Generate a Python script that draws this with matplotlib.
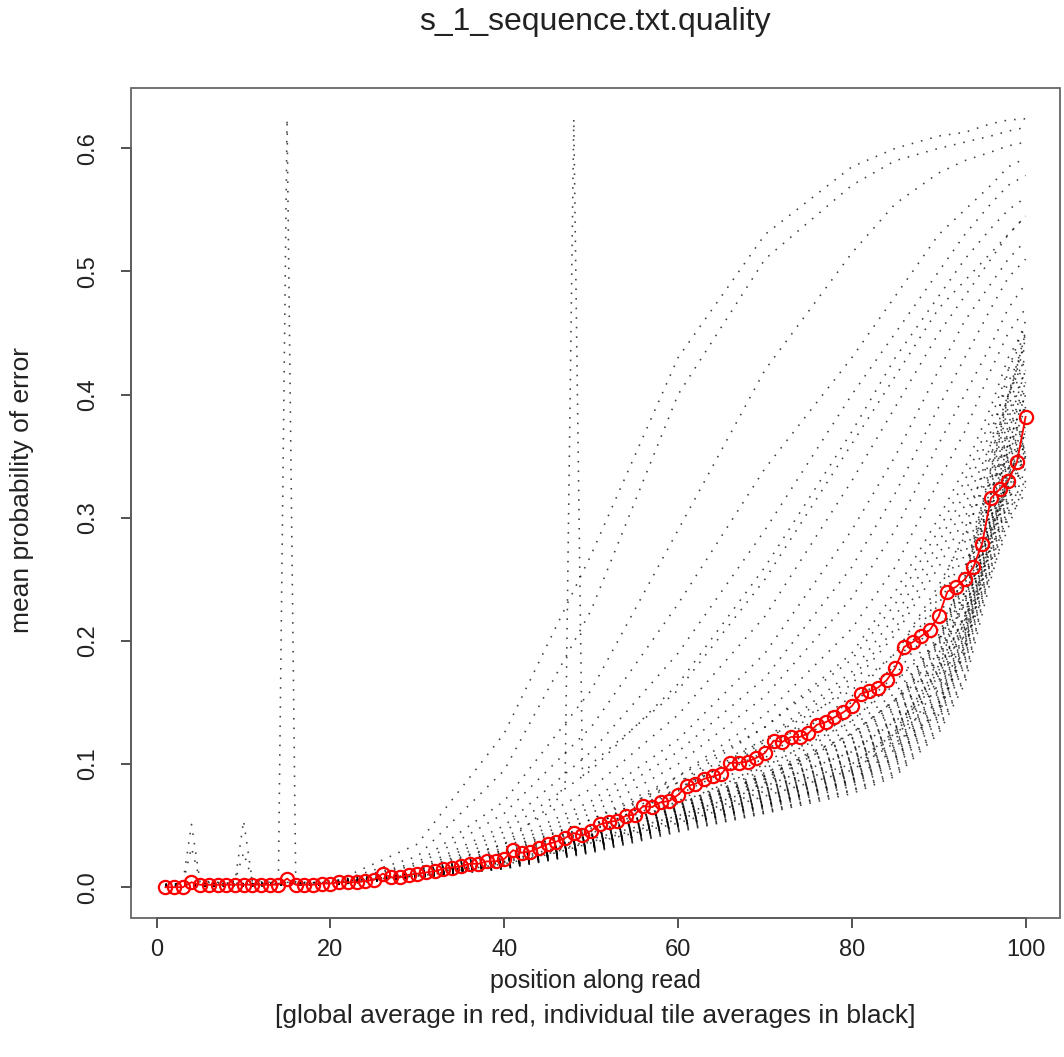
import matplotlib
matplotlib.use("Agg")
import matplotlib.pyplot as plt
from matplotlib.patches import Rectangle

# global average (red), one value per read position
position = list(range(1, 101))
global_err = [
    0.000, 0.000, 0.000, 0.004, 0.002, 0.002, 0.002, 0.002, 0.002, 0.002,
    0.002, 0.002, 0.002, 0.002, 0.007, 0.002, 0.002, 0.002, 0.003, 0.003,
    0.004, 0.004, 0.004, 0.005, 0.006, 0.011, 0.008, 0.008, 0.010, 0.011,
    0.012, 0.013, 0.015, 0.016, 0.017, 0.019, 0.019, 0.021, 0.021, 0.023,
    0.030, 0.028, 0.029, 0.032, 0.035, 0.037, 0.040, 0.044, 0.042, 0.046,
    0.051, 0.053, 0.054, 0.058, 0.059, 0.066, 0.065, 0.069, 0.070, 0.075,
    0.082, 0.084, 0.088, 0.090, 0.092, 0.101, 0.101, 0.102, 0.105, 0.109,
    0.119, 0.118, 0.122, 0.122, 0.125, 0.132, 0.134, 0.138, 0.142, 0.147,
    0.157, 0.159, 0.162, 0.168, 0.178, 0.195, 0.199, 0.204, 0.209, 0.220,
    0.240, 0.244, 0.250, 0.260, 0.279, 0.316, 0.323, 0.330, 0.345, 0.382,
]

# individual tile averages (black), read at these positions
tile_pos = [1, 20, 30, 40, 50, 60, 70, 80, 85, 90, 93, 96, 98, 100]

fan_tiles = [
    [0.002, 0.003, 0.035, 0.125, 0.270, 0.430, 0.530, 0.585, 0.600, 0.610, 0.613, 0.620, 0.623, 0.624],
    [0.002, 0.003, 0.025, 0.095, 0.225, 0.400, 0.510, 0.570, 0.590, 0.600, 0.605, 0.610, 0.614, 0.617],
    [0.002, 0.003, 0.020, 0.070, 0.160, 0.290, 0.420, 0.515, 0.555, 0.580, 0.590, 0.597, 0.602, 0.605],
    [0.002, 0.003, 0.018, 0.060, 0.130, 0.230, 0.340, 0.430, 0.480, 0.530, 0.550, 0.570, 0.585, 0.592],
    [0.002, 0.003, 0.015, 0.050, 0.110, 0.190, 0.290, 0.400, 0.450, 0.500, 0.530, 0.555, 0.570, 0.578],
    [0.002, 0.003, 0.014, 0.045, 0.095, 0.165, 0.260, 0.370, 0.430, 0.480, 0.510, 0.535, 0.550, 0.560],
    [0.002, 0.003, 0.013, 0.040, 0.080, 0.140, 0.220, 0.330, 0.390, 0.450, 0.480, 0.510, 0.530, 0.545],
    [0.002, 0.003, 0.012, 0.035, 0.070, 0.120, 0.190, 0.290, 0.350, 0.420, 0.460, 0.490, 0.510, 0.525],
    [0.002, 0.003, 0.012, 0.032, 0.065, 0.110, 0.170, 0.260, 0.320, 0.390, 0.430, 0.470, 0.495, 0.510],
    [0.002, 0.003, 0.011, 0.030, 0.060, 0.100, 0.155, 0.235, 0.290, 0.360, 0.400, 0.440, 0.470, 0.490],
    [0.002, 0.003, 0.011, 0.028, 0.055, 0.090, 0.140, 0.210, 0.260, 0.330, 0.370, 0.420, 0.450, 0.470],
    [0.002, 0.003, 0.010, 0.026, 0.050, 0.085, 0.130, 0.190, 0.240, 0.300, 0.340, 0.390, 0.430, 0.455],
]

mid_tiles = [
    [0.002, 0.003, 0.010, 0.024, 0.045, 0.080, 0.120, 0.175, 0.220, 0.280, 0.320, 0.370, 0.410, 0.440],
    [0.002, 0.003, 0.010, 0.023, 0.042, 0.075, 0.110, 0.165, 0.205, 0.260, 0.300, 0.350, 0.400, 0.430],
    [0.002, 0.003, 0.010, 0.022, 0.040, 0.070, 0.105, 0.155, 0.190, 0.245, 0.285, 0.340, 0.385, 0.420],
    [0.002, 0.003, 0.009, 0.021, 0.038, 0.066, 0.100, 0.148, 0.180, 0.230, 0.270, 0.330, 0.370, 0.410],
    [0.002, 0.003, 0.009, 0.020, 0.036, 0.063, 0.096, 0.140, 0.172, 0.220, 0.260, 0.320, 0.360, 0.400],
    [0.002, 0.003, 0.009, 0.020, 0.035, 0.060, 0.092, 0.135, 0.165, 0.210, 0.250, 0.310, 0.350, 0.390],
    [0.002, 0.003, 0.009, 0.019, 0.034, 0.058, 0.088, 0.130, 0.158, 0.200, 0.240, 0.300, 0.340, 0.380],
    [0.002, 0.003, 0.008, 0.019, 0.033, 0.056, 0.085, 0.125, 0.152, 0.190, 0.230, 0.290, 0.330, 0.370],
    [0.002, 0.003, 0.012, 0.030, 0.055, 0.085, 0.120, 0.160, 0.190, 0.240, 0.290, 0.360, 0.420, 0.460],
    [0.002, 0.003, 0.011, 0.028, 0.050, 0.080, 0.115, 0.150, 0.180, 0.235, 0.280, 0.350, 0.400, 0.450],
    [0.002, 0.003, 0.012, 0.027, 0.048, 0.090, 0.130, 0.185, 0.230, 0.290, 0.330, 0.380, 0.420, 0.450],
    [0.002, 0.003, 0.011, 0.026, 0.046, 0.078, 0.118, 0.170, 0.210, 0.270, 0.310, 0.360, 0.400, 0.430],
]

band_tiles = [
    [0.001, 0.002, 0.008, 0.015, 0.028, 0.045, 0.060, 0.076, 0.090, 0.125, 0.165, 0.250, 0.300, 0.320],
    [0.001, 0.002, 0.008, 0.016, 0.029, 0.047, 0.062, 0.079, 0.094, 0.130, 0.172, 0.260, 0.310, 0.330],
    [0.001, 0.002, 0.008, 0.016, 0.030, 0.048, 0.064, 0.082, 0.098, 0.135, 0.180, 0.265, 0.315, 0.340],
    [0.001, 0.002, 0.009, 0.017, 0.031, 0.050, 0.066, 0.085, 0.102, 0.140, 0.186, 0.270, 0.320, 0.350],
    [0.001, 0.002, 0.009, 0.017, 0.032, 0.051, 0.068, 0.088, 0.106, 0.145, 0.190, 0.275, 0.325, 0.355],
    [0.001, 0.002, 0.009, 0.018, 0.033, 0.052, 0.070, 0.091, 0.110, 0.150, 0.195, 0.280, 0.330, 0.360],
    [0.001, 0.002, 0.009, 0.018, 0.034, 0.054, 0.072, 0.094, 0.114, 0.155, 0.200, 0.285, 0.335, 0.365],
    [0.001, 0.002, 0.009, 0.019, 0.035, 0.055, 0.074, 0.097, 0.118, 0.160, 0.205, 0.290, 0.340, 0.370],
    [0.001, 0.002, 0.010, 0.019, 0.036, 0.057, 0.076, 0.100, 0.122, 0.165, 0.210, 0.295, 0.345, 0.375],
    [0.001, 0.002, 0.010, 0.020, 0.037, 0.058, 0.078, 0.103, 0.126, 0.172, 0.215, 0.300, 0.350, 0.380],
    [0.001, 0.002, 0.010, 0.020, 0.038, 0.060, 0.080, 0.106, 0.130, 0.178, 0.220, 0.305, 0.355, 0.390],
    [0.001, 0.002, 0.010, 0.021, 0.039, 0.061, 0.082, 0.109, 0.134, 0.184, 0.230, 0.310, 0.360, 0.400],
    [0.001, 0.002, 0.010, 0.021, 0.040, 0.063, 0.085, 0.112, 0.138, 0.190, 0.240, 0.320, 0.370, 0.410],
    [0.001, 0.002, 0.011, 0.022, 0.041, 0.064, 0.087, 0.116, 0.142, 0.196, 0.245, 0.325, 0.380, 0.420],
    [0.001, 0.002, 0.011, 0.022, 0.042, 0.066, 0.090, 0.120, 0.147, 0.200, 0.250, 0.330, 0.390, 0.430],
    [0.001, 0.002, 0.011, 0.023, 0.043, 0.068, 0.093, 0.124, 0.152, 0.205, 0.255, 0.340, 0.400, 0.440],
    [0.001, 0.002, 0.009, 0.018, 0.033, 0.053, 0.071, 0.093, 0.120, 0.172, 0.210, 0.290, 0.330, 0.360],
    [0.001, 0.002, 0.009, 0.018, 0.034, 0.054, 0.073, 0.096, 0.124, 0.176, 0.215, 0.295, 0.335, 0.365],
    [0.001, 0.002, 0.010, 0.019, 0.035, 0.056, 0.075, 0.098, 0.127, 0.180, 0.220, 0.300, 0.340, 0.370],
    [0.001, 0.002, 0.009, 0.017, 0.032, 0.050, 0.067, 0.086, 0.104, 0.143, 0.190, 0.280, 0.330, 0.355],
    [0.001, 0.002, 0.009, 0.018, 0.033, 0.052, 0.069, 0.090, 0.108, 0.148, 0.196, 0.285, 0.335, 0.360],
    [0.001, 0.002, 0.010, 0.020, 0.037, 0.058, 0.079, 0.104, 0.128, 0.175, 0.220, 0.310, 0.360, 0.400],
    [0.001, 0.002, 0.010, 0.021, 0.039, 0.062, 0.084, 0.110, 0.136, 0.188, 0.235, 0.320, 0.375, 0.420],
    [0.001, 0.002, 0.011, 0.022, 0.041, 0.065, 0.088, 0.117, 0.145, 0.198, 0.248, 0.335, 0.395, 0.450],
    [0.001, 0.002, 0.008, 0.016, 0.030, 0.049, 0.065, 0.084, 0.100, 0.138, 0.183, 0.268, 0.318, 0.345],
    [0.001, 0.002, 0.009, 0.017, 0.031, 0.051, 0.067, 0.087, 0.105, 0.146, 0.192, 0.278, 0.328, 0.352],
    [0.001, 0.002, 0.009, 0.018, 0.033, 0.053, 0.070, 0.092, 0.112, 0.153, 0.198, 0.283, 0.332, 0.362],
    [0.001, 0.002, 0.009, 0.018, 0.034, 0.055, 0.073, 0.095, 0.116, 0.158, 0.203, 0.288, 0.338, 0.368],
    [0.001, 0.002, 0.010, 0.019, 0.036, 0.056, 0.077, 0.101, 0.124, 0.168, 0.212, 0.298, 0.348, 0.378],
    [0.001, 0.002, 0.010, 0.020, 0.038, 0.059, 0.080, 0.105, 0.129, 0.176, 0.222, 0.306, 0.356, 0.392],
    [0.001, 0.002, 0.010, 0.021, 0.040, 0.062, 0.083, 0.111, 0.137, 0.186, 0.232, 0.318, 0.368, 0.405],
    [0.001, 0.002, 0.011, 0.022, 0.042, 0.067, 0.091, 0.121, 0.150, 0.202, 0.252, 0.338, 0.398, 0.445],
    [0.001, 0.002, 0.008, 0.015, 0.029, 0.046, 0.061, 0.078, 0.092, 0.128, 0.170, 0.258, 0.305, 0.325],
    [0.001, 0.002, 0.009, 0.017, 0.032, 0.050, 0.066, 0.087, 0.112, 0.165, 0.205, 0.285, 0.325, 0.350],
]

# tiles with single-position spikes, read at a finer set of positions
spike_pos = [1, 3, 4, 5, 9, 10, 11, 14, 15, 16, 20, 30, 40, 46, 47, 48, 49, 50, 60, 70, 80, 90, 100]
spike_tiles = [
    [0.002, 0.002, 0.003, 0.003, 0.003, 0.003, 0.003, 0.004, 0.624, 0.004, 0.004, 0.010, 0.021, 0.032, 0.035, 0.038, 0.041, 0.044, 0.068, 0.098, 0.135, 0.200, 0.390],
    [0.002, 0.002, 0.003, 0.003, 0.003, 0.003, 0.003, 0.004, 0.004, 0.004, 0.005, 0.014, 0.035, 0.070, 0.085, 0.624, 0.090, 0.100, 0.160, 0.250, 0.360, 0.470, 0.545],
    [0.002, 0.003, 0.051, 0.004, 0.003, 0.003, 0.003, 0.003, 0.004, 0.003, 0.004, 0.010, 0.020, 0.030, 0.032, 0.034, 0.036, 0.039, 0.058, 0.082, 0.110, 0.160, 0.350],
    [0.002, 0.003, 0.032, 0.005, 0.003, 0.004, 0.003, 0.003, 0.004, 0.003, 0.004, 0.009, 0.018, 0.029, 0.031, 0.033, 0.035, 0.037, 0.055, 0.078, 0.100, 0.150, 0.340],
    [0.002, 0.002, 0.003, 0.003, 0.004, 0.054, 0.005, 0.003, 0.004, 0.003, 0.004, 0.011, 0.022, 0.033, 0.035, 0.037, 0.040, 0.042, 0.064, 0.090, 0.125, 0.180, 0.370],
    [0.002, 0.002, 0.003, 0.003, 0.005, 0.028, 0.006, 0.003, 0.004, 0.003, 0.004, 0.009, 0.019, 0.028, 0.030, 0.032, 0.034, 0.036, 0.052, 0.074, 0.095, 0.140, 0.330],
]

plt.rcParams['font.family'] = ['Liberation Sans', 'DejaVu Sans']

W, H = 1064, 1057
fig = plt.figure(figsize=(W / 100, H / 100), dpi=100)
ax = fig.add_axes([131 / W, 1 - 918 / H, (1060 - 131) / W, (918 - 88) / H])

dotted = (0, (1, 5))
for t in fan_tiles + mid_tiles + band_tiles:
    ax.plot(tile_pos, t, color='black', lw=1.15, ls=dotted, alpha=0.75)
for t in spike_tiles:
    ax.plot(spike_pos, t, color='black', lw=1.15, ls=dotted, alpha=0.75)

ax.plot(position, global_err, color='red', lw=1.3, marker='o', ms=9.5,
        mfc='none', mec='red', mew=1.6, zorder=5)

ax.set_xlim(-2.96, 103.96)
ax.set_ylim(-0.025, 0.649)
ax.set_xticks([0, 20, 40, 60, 80, 100])
ax.set_yticks([0.0, 0.1, 0.2, 0.3, 0.4, 0.5, 0.6])
ax.set_yticklabels(['0.0', '0.1', '0.2', '0.3', '0.4', '0.5', '0.6'])

# R style: grey box plus axis lines spanning the ticks only
for s in ['top', 'right']:
    ax.spines[s].set_visible(False)
ax.spines['bottom'].set_bounds(0, 100)
ax.spines['left'].set_bounds(0, 0.6)
for s in ['bottom', 'left']:
    ax.spines[s].set_color('#222222')
    ax.spines[s].set_linewidth(1.4)
ax.add_patch(Rectangle((0, 0), 1, 1, transform=ax.transAxes, fill=False,
                       edgecolor='#666666', lw=1.3, clip_on=False, zorder=6))

ax.tick_params(length=7, width=1.1, color='#222222', labelsize=17, labelcolor='#222222')
ax.tick_params(axis='x', pad=8)
ax.tick_params(axis='y', pad=16)
for lab in ax.get_yticklabels():
    lab.set_rotation(90)
    lab.set_va('center')

fig.text(595 / W, 1 - 22 / H, 's_1_sequence.txt.quality', ha='center', va='center',
         fontsize=23, color='#222222')
fig.text(595 / W, 1 - 981 / H, 'position along read', ha='center', va='center',
         fontsize=18, color='#222222')
fig.text(595 / W, 1 - 1016 / H,
         '[global average in red, individual tile averages in black]',
         ha='center', va='center', fontsize=19, color='#222222')
fig.text(22 / W, 1 - 490 / H, 'mean probability of error', ha='center', va='center',
         rotation=90, fontsize=19, color='#222222')

fig.savefig('out.png', dpi=100)
